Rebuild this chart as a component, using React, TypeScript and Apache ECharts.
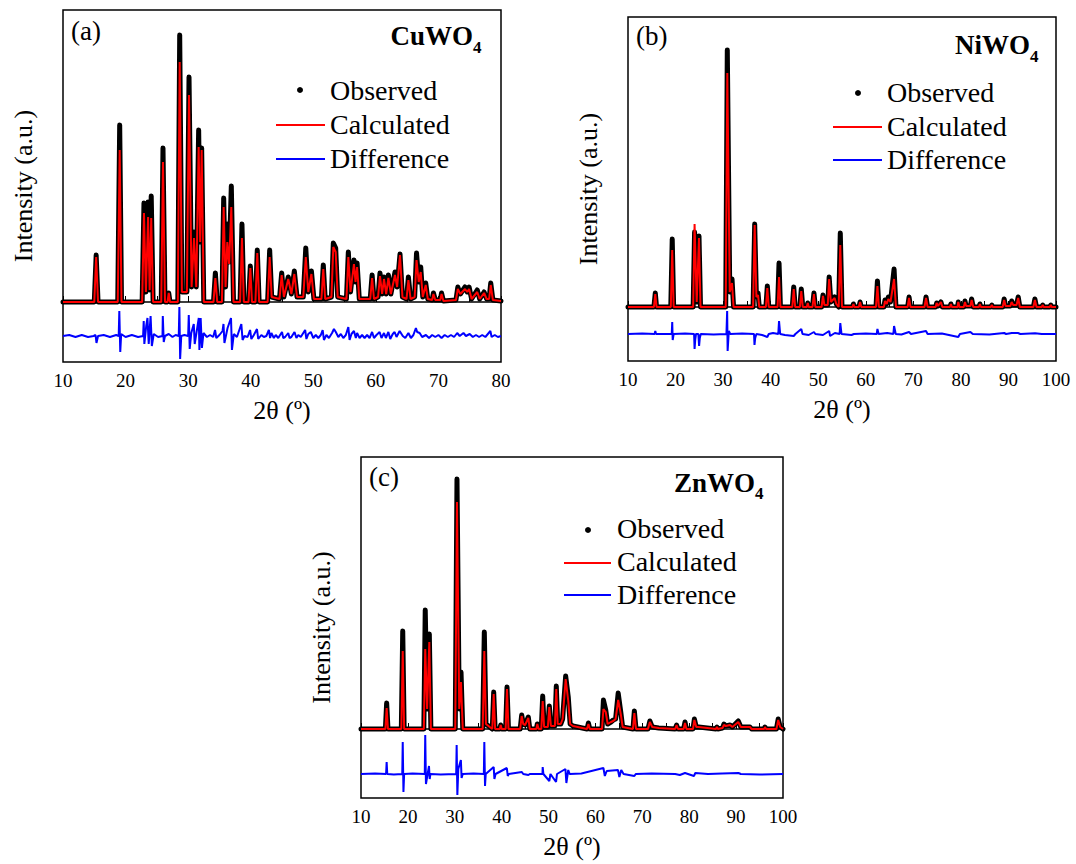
import React, { useEffect, useRef } from "react";
import * as echarts from "echarts";

// ---------- Panel (a) CuWO4 ----------
const cuTheta = [10, 15.0, 15.3, 15.6, 18.75, 19.06, 19.35, 22.65, 22.94, 23.25, 23.6, 23.85, 24.1, 24.4, 25.7, 25.98, 26.3, 26.7, 26.9, 27.1, 28.35, 28.65, 29.0, 29.8, 30.14, 30.55, 30.94, 31.3, 31.68, 31.92, 32.16, 32.5, 34.05, 34.35, 34.65, 35.4, 35.68, 35.98, 36.26, 36.55, 36.9, 37.25, 38.3, 38.6, 38.9, 39.65, 39.94, 40.2, 40.75, 41.05, 41.35, 42.7, 43.03, 43.35, 44.6, 44.95, 45.3, 46.0, 46.5, 46.97, 47.4, 48.4, 48.8, 49.2, 49.7, 50.1, 51.3, 51.6, 51.9, 52.9, 53.2, 53.58, 53.9, 55.3, 55.6, 55.95, 56.5, 56.75, 57.0, 57.35, 59.1, 59.4, 59.7, 60.35, 60.66, 61.0, 61.3, 61.65, 62.0, 62.4, 63.06, 63.4, 63.86, 64.25, 64.9, 65.2, 65.55, 66.2, 66.5, 66.85, 67.17, 67.5, 67.97, 68.3, 69.0, 69.2, 69.5, 70.3, 70.5, 70.8, 72.8, 73.1, 73.5, 74.25, 74.6, 74.9, 75.3, 76.2, 76.6, 77.3, 77.7, 78.1, 78.36, 78.7, 80];
const cuObs = [0, 0, 47, 0, 0, 177, 0, 0, 99, 10, 100, 12, 106, 0, 0, 154, 0, 0, 9, 0, 0, 267, 10, 10, 225, 15, 70, 15, 172, 60, 154, 0, 0, 29, 0, 0, 104, 15, 78, 40, 116, 0, 0, 78, 0, 0, 36, 0, 0, 52, 0, 0, 52, 5, 3, 29, 5, 25, 8, 31, 5, 5, 54, 10, 31, 3, 3, 37, 3, 5, 59, 54, 5, 3, 50, 10, 42, 20, 39, 3, 3, 27, 3, 5, 29, 8, 25, 8, 27, 8, 30, 15, 48, 5, 3, 25, 3, 5, 49, 20, 35, 5, 19, 3, 2, 9, 2, 2, 9, 1, 2, 15, 8, 15, 10, 15, 3, 12, 3, 10, 3, 3, 19, 2, 1];
const cuCalc = [0, 0, 45, 0, 0, 152, 0, 0, 89, 10, 85, 12, 84, 0, 0, 140, 0, 0, 9, 0, 0, 240, 10, 10, 207, 15, 64, 15, 155, 60, 152, 0, 0, 24, 0, 0, 95, 15, 60, 38, 95, 0, 0, 64, 0, 0, 34, 0, 0, 49, 0, 0, 45, 5, 3, 27, 5, 23, 8, 28, 5, 5, 45, 10, 28, 3, 3, 33, 3, 5, 55, 50, 5, 3, 45, 10, 38, 20, 35, 3, 3, 24, 3, 5, 26, 8, 23, 8, 24, 8, 27, 15, 47, 5, 3, 22, 3, 5, 42, 20, 30, 5, 17, 3, 2, 8, 2, 2, 8, 1, 2, 13, 8, 13, 10, 13, 3, 10, 3, 9, 3, 3, 17, 2, 1];
// [2θ, Yobs − Ycalc]
const cuDiffPts = [
  [10, 0], [11, 1], [12, -1], [13, 1], [14, -1], [14.9, 0], [15.2, 1], [15.35, -7], [15.6, 0], [16.5, 1], [17.5, -1], [18.5, 1],
  [18.9, 0], [19.0, 25], [19.15, -16], [19.3, 2], [20, -1], [21, 1], [22, -1], [22.8, 0], [22.9, 15], [23.0, -8], [23.3, 10],
  [23.5, 18], [23.7, -8], [24.0, 20], [24.2, -10], [24.5, 2], [25.2, -1], [25.9, 0], [25.95, 20], [26.1, -6], [26.3, 0],
  [26.9, 2], [27.5, -1], [28.0, 1], [28.5, 0], [28.6, 29], [28.72, -23], [28.9, 0], [29.4, 1], [30.0, 0], [30.1, 21],
  [30.25, -13], [30.5, 3], [30.9, 12], [31.05, -8], [31.5, 10], [31.7, 18], [31.8, -14], [32.0, 18], [32.2, -12], [32.45, 3],
  [33, -1], [33.5, 1], [34, -1], [34.3, 6], [34.5, -2], [35, 1], [35.5, 5], [35.65, 12], [35.8, -7], [36.3, 8], [36.85, 18],
  [37.0, -14], [37.3, 2], [37.8, -1], [38.5, 12], [38.7, -4], [39.0, 0], [39.5, -1], [39.9, 6], [40.1, -3], [40.5, 1],
  [41.0, 7], [41.2, -3], [41.7, 1], [42.1, -1], [42.5, 0], [42.9, 6], [43.1, -2], [43.3, 3], [43.7, -2], [44, 1], [44.4, -2],
  [45, 4], [45.2, -2], [45.5, -1], [46, 3], [46.2, -2], [46.5, -1], [47, 4], [47.3, -2], [47.6, 1], [48.0, -1], [48.3, 2],
  [48.7, 6], [48.9, -3], [49.2, 2], [49.6, 4], [50, -2], [50.4, 1], [50.8, -2], [51.2, 1], [51.5, 6], [51.7, -4], [52.1, 1],
  [52.5, -2], [53.0, 3], [53.3, 7], [53.6, 4], [54, -1], [54.4, 2], [54.8, -2], [55.2, 1], [55.6, 9], [55.8, -4], [56.1, 2],
  [56.5, 5], [56.8, -2], [57, 3], [57.4, -2], [57.8, 1], [58.2, -2], [58.6, 1], [59.0, -2], [59.4, 4], [59.7, -2], [60.1, 1],
  [60.6, 4], [60.9, -2], [61.3, 3], [61.6, -2], [62, 4], [62.3, -3], [62.7, 2], [63, 4], [63.3, -1], [63.8, 5], [64.3, 0],
  [64.7, -2], [65.2, 3], [65.6, -2], [66.0, 1], [66.4, 8], [66.6, 4], [67, 3], [67.4, -1], [68, 1], [68.5, -2], [69, 1],
  [69.5, -1], [70, 1], [70.5, -2], [71, 1], [71.5, -1], [72, 1], [72.5, -1], [73, 3], [73.4, 0], [74, 3], [74.4, 0], [75, 2],
  [75.5, -1], [76, 1], [76.5, -1], [77, 1], [77.5, -1], [78.3, 5], [78.5, -1], [79, 1], [79.5, -1], [80, 0],
];
const cuDiffOffset = -34;

// ---------- Panel (b) NiWO4 ----------
const niTheta = [10, 15.45, 15.74, 16.0, 19.0, 19.3, 19.6, 23.7, 24.0, 24.45, 24.93, 25.25, 30.55, 30.88, 31.4, 31.87, 32.2, 36.3, 36.64, 37.0, 37.34, 37.6, 39.0, 39.3, 39.6, 41.45, 41.76, 42.05, 44.55, 44.85, 45.15, 46.15, 46.44, 46.75, 47.6, 47.8, 48.0, 48.8, 49.1, 49.4, 50.7, 51.0, 51.3, 52.0, 52.3, 52.65, 53.45, 53.8, 54.3, 54.64, 55.0, 57.2, 57.4, 57.6, 58.55, 58.8, 59.05, 62.15, 62.45, 62.75, 63.8, 64.05, 64.4, 64.75, 65.2, 65.95, 66.35, 68.8, 69.1, 69.4, 72.35, 72.67, 73.0, 74.7, 74.9, 75.2, 75.8, 76.1, 77.7, 77.9, 78.1, 79.3, 79.45, 79.7, 80.6, 80.86, 81.1, 82.0, 82.26, 82.6, 83.8, 84.0, 84.2, 86.3, 86.5, 86.7, 88.8, 89.1, 89.4, 90.4, 90.67, 91.0, 91.7, 92.05, 92.4, 95.25, 95.56, 95.9, 97.0, 97.2, 97.4, 98.7, 98.9, 99.1, 100];
const niObs = [0, 0, 14, 0, 0, 68, 0, 0, 75, 5, 71, 0, 0, 257, 15, 28, 0, 0, 83, 10, 14, 0, 0, 21, 0, 0, 44, 0, 0, 20, 0, 0, 18, 0, 0, 4, 0, 0, 14, 0, 0, 12, 2, 2, 30, 5, 10, 3, 0, 74, 0, 0, 3, 0, 0, 5, 0, 0, 26, 0, 0, 7, 3, 10, 5, 38, 0, 0, 10, 0, 0, 10, 0, 0, 4, 1, 5, 0, 0, 3, 0, 0, 5, 0, 0, 6, 1, 1, 8, 0, 0, 3, 0, 0, 2, 0, 0, 8, 1, 1, 6, 2, 2, 10, 0, 0, 8, 0, 0, 2, 0, 0, 2, 0, 0];
const niCalc = [0, 0, 13, 0, 0, 57, 0, 0, 83, 5, 69, 0, 0, 234, 15, 24, 0, 0, 82, 10, 12, 0, 0, 19, 0, 0, 30, 0, 0, 18, 0, 0, 16, 0, 0, 4, 0, 0, 13, 0, 0, 11, 2, 2, 28, 5, 9, 3, 0, 62, 0, 0, 3, 0, 0, 5, 0, 0, 21, 0, 0, 6, 3, 8, 5, 28, 0, 0, 9, 0, 0, 9, 0, 0, 4, 1, 5, 0, 0, 3, 0, 0, 5, 0, 0, 5, 1, 1, 7, 0, 0, 3, 0, 0, 2, 0, 0, 7, 1, 1, 5, 2, 2, 9, 0, 0, 7, 0, 0, 2, 0, 0, 2, 0, 0];
const niDiffPts = [
  [10, 0], [13, 0.5], [15.6, 0], [15.74, 3], [15.9, 0], [19.2, 0], [19.3, 12], [19.4, -6], [19.6, 0], [22, 0.5], [23.9, 0],
  [24.0, -15], [24.15, -5], [24.3, 0], [24.8, 0], [24.95, -12], [25.1, -4], [25.3, 0], [28, -0.5], [30.7, 0], [30.85, 23],
  [30.95, -17], [31.2, 3], [31.5, 0], [34, 0.5], [36.5, 0], [36.6, -11], [36.75, -4], [37, 0], [38.2, -1], [39.3, -3],
  [39.6, 0], [40.5, 1], [41.6, 0], [41.76, 13], [42, 0], [43, -1], [44.85, -2], [45.2, 0], [46.44, 5], [46.7, 0], [48, -1],
  [49.1, 2], [49.4, 0], [51, -1], [52.3, 3], [52.5, -2], [53.5, 1], [54.5, 0], [54.64, 11], [54.9, 0], [57, -1], [57.5, 0],
  [60, 0.5], [62.3, 0], [62.45, 5], [62.7, 0], [64.5, 1], [65.8, 0], [65.95, 8], [66.3, 0], [67.5, -0.5], [69.1, 2], [69.5, 0],
  [72.67, 3], [73, 0], [76, 0.5], [79.45, -3], [79.8, 0], [80.9, 1], [82, 2], [82.5, 0], [86, -0.5], [89.1, 1], [89.5, 0],
  [90.7, 1], [92, 1], [92.5, 0], [95.6, 0.8], [97, 0], [100, 0],
];
const niDiffOffset = -27;

// ---------- Panel (c) ZnWO4 ----------
const znTheta = [10, 15.2, 15.47, 15.75, 18.6, 18.9, 19.2, 23.4, 23.7, 24.1, 24.57, 24.9, 30.1, 30.47, 30.95, 31.33, 31.7, 35.95, 36.3, 36.65, 38.0, 38.3, 38.6, 39.6, 39.8, 40.0, 40.85, 41.14, 41.45, 43.95, 44.27, 44.6, 45.0, 45.68, 46.0, 47.4, 47.6, 47.9, 48.45, 48.75, 49.05, 49.85, 50.16, 50.5, 51.35, 51.65, 51.95, 52.6, 53.0, 53.65, 54.2, 54.6, 55.2, 58.2, 58.5, 58.8, 61.4, 61.7, 62.2, 62.6, 63.3, 63.8, 64.3, 64.85, 65.4, 65.8, 68.0, 68.3, 68.65, 71.2, 71.6, 72.1, 73.5, 77.0, 77.3, 77.6, 78.8, 79.1, 79.4, 80.8, 81.1, 81.5, 82.0, 85.7, 85.9, 86.1, 87.1, 87.4, 87.8, 88.7, 89.2, 90.46, 91.0, 92.95, 93.3, 96.0, 96.15, 96.4, 98.6, 98.98, 99.4, 100];
const znObs = [0, 0, 26, 0, 0, 98, 0, 0, 119, 20, 95, 0, 0, 250, 20, 57, 0, 0, 97, 5, 0, 37, 0, 0, 4, 0, 0, 42, 0, 0, 14, 5, 4, 12, 0, 0, 5, 0, 0, 33, 2, 2, 23, 3, 3, 43, 5, 5, 10, 53, 32, 5, 3, 0, 6, 0, 0, 29, 19, 5, 7, 9, 10, 36, 17, 2, 0, 18, 0, 0, 8, 2, 1, 0, 4, 0, 0, 7, 0, 0, 10, 2, 2, 0, 2, 0, 1, 5, 3, 4, 2, 8, 2, 2, 0, 0, 2, 0, 0, 10, 2, 0];
const znCalc = [0, 0, 21, 0, 0, 78, 0, 0, 80, 20, 87, 0, 0, 227, 20, 47, 0, 0, 78, 5, 0, 35, 0, 0, 4, 0, 0, 40, 0, 0, 13, 5, 4, 11, 0, 0, 5, 0, 0, 28, 2, 2, 22, 3, 3, 40, 5, 5, 10, 50, 28, 5, 3, 0, 5, 0, 0, 20, 17, 5, 7, 8, 10, 29, 15, 2, 0, 16, 0, 0, 7, 2, 1, 0, 4, 0, 0, 6, 0, 0, 9, 2, 2, 0, 2, 0, 1, 4, 3, 4, 2, 7, 2, 2, 0, 0, 2, 0, 0, 9, 2, 0];
const znDiffPts = [
  [10, 0], [13, 0.5], [15.35, 0], [15.47, 12], [15.6, 0], [17, -0.5], [18.8, 0], [18.9, 32], [19.05, -18], [19.2, 0], [21, 0.5],
  [23.6, 0], [23.7, 39], [23.85, -10], [24.5, 8], [24.65, -5], [24.8, 0], [27, -0.5], [30.3, 0], [30.4, 29], [30.55, -21],
  [30.75, 5], [31.3, 14], [31.45, -4], [31.7, 0], [34, 0.5], [36.2, 0], [36.3, 32], [36.45, -12], [36.6, 0], [38.3, 7],
  [38.45, -5], [38.7, 0], [41.1, 6], [41.3, -2], [41.5, 0], [44.3, 2], [44.6, 0], [45.7, -1], [46, 0], [48.7, 0], [48.75, 7],
  [48.9, 0], [50.16, -7], [50.4, 0], [51.6, -8], [51.8, 0], [53.6, 5], [53.8, -9], [54.2, 4], [54.5, 0], [57, 0.5], [61.7, 6],
  [62.0, -2], [62.4, 3], [64.8, 4], [65.1, -3], [65.5, 4], [66, 0], [68.3, -2], [68.6, 0], [72, 0.5], [77, 0], [78, -1],
  [79.1, 1], [81, -2], [81.3, 1], [84, 0], [87, 0.5], [90.5, 1], [91, 0], [95, -0.5], [100, 0],
];
const znDiffOffset = -45;

const xTicks = { interval: 10, min: 10 };
const FONT = '"Liberation Serif", "Times New Roman", Times, serif';

const panels = [
  { theta: cuTheta, obs: cuObs, calc: cuCalc, diff: cuDiffPts, off: cuDiffOffset, xMax: 80,
    grid: { left: 63, top: 10, width: 438, height: 352 }, yMin: -60, yMax: 292 },
  { theta: niTheta, obs: niObs, calc: niCalc, diff: niDiffPts, off: niDiffOffset, xMax: 100,
    grid: { left: 628, top: 17, width: 428, height: 344 }, yMin: -54, yMax: 290 },
  { theta: znTheta, obs: znObs, calc: znCalc, diff: znDiffPts, off: znDiffOffset, xMax: 100,
    grid: { left: 361, top: 457, width: 422, height: 341 }, yMin: -69, yMax: 272 },
];

// annotation layout (pixels)
const annot = [
  { lab: "(a)", labX: 71, labY: 31, formula: "CuWO", fx: 473, fy: 36, sy: 47,
    dotX: 300, dotY: 90, lx1: 276, lx2: 325, tx: 330, oy: 90, cy: 124, dy: 158, ly1: 125, ly2: 159 },
  { lab: "(b)", labX: 636, labY: 36, formula: "NiWO", fx: 1030, fy: 45, sy: 56,
    dotX: 858, dotY: 93, lx1: 833, lx2: 882, tx: 887, oy: 92, cy: 126, dy: 159, ly1: 127, ly2: 160 },
  { lab: "(c)", labX: 369, labY: 477, formula: "ZnWO", fx: 755, fy: 483, sy: 493,
    dotX: 588, dotY: 530, lx1: 564, lx2: 611, tx: 617, oy: 528, cy: 561, dy: 594, ly1: 563, ly2: 595 },
];

export default function App() {
  const ref = useRef<HTMLDivElement>(null);
  useEffect(() => {
    if (!ref.current) return;
    const chart = echarts.init(ref.current, null, { renderer: "svg" });
    const grids: any[] = [];
    const xAxes: any[] = [];
    const yAxes: any[] = [];
    const series: any[] = [];
    const graphic: any[] = [];
    panels.forEach((p, i) => {
      grids.push({ ...p.grid, show: true, borderColor: "#000", borderWidth: 1.5, backgroundColor: "transparent", containLabel: false, outerBoundsMode: "none" });
      xAxes.push({
        type: "value", gridIndex: i, min: xTicks.min, max: p.xMax, interval: xTicks.interval,
        axisLine: { show: true, lineStyle: { color: "#000", width: 1.5 } },
        axisTick: { show: true, inside: true, length: 6, lineStyle: { color: "#000", width: 1 } },
        minorTick: { show: true, splitNumber: 2, length: 6, lineStyle: { color: "#000", width: 1 } },
        axisLabel: { color: "#000", fontSize: 19, fontFamily: FONT, margin: 9 },
        splitLine: { show: false }, minorSplitLine: { show: false },
        name: "2θ (º)", nameLocation: "middle", nameGap: 35,
        nameTextStyle: { color: "#000", fontSize: 26, fontFamily: FONT },
      });
      yAxes.push({
        type: "value", gridIndex: i, min: p.yMin, max: p.yMax,
        axisLine: { show: false }, axisTick: { show: false }, axisLabel: { show: false }, splitLine: { show: false },
        name: "Intensity (a.u.)", nameLocation: "middle", nameGap: 27,
        nameTextStyle: { color: "#000", fontSize: 26, fontFamily: FONT },
      });
      series.push({
        name: "Observed", type: "line", xAxisIndex: i, yAxisIndex: i, silent: true, showSymbol: false, z: 2,
        data: p.theta.map((t, k) => [t, p.obs[k]]),
        lineStyle: { color: "#000", width: 5, cap: "round", join: "round" },
      });
      series.push({
        name: "Calculated", type: "line", xAxisIndex: i, yAxisIndex: i, silent: true, showSymbol: false, z: 3,
        data: p.theta.map((t, k) => [t, p.calc[k]]),
        lineStyle: { color: "#ff0000", width: 2 },
      });
      series.push({
        name: "Difference", type: "line", xAxisIndex: i, yAxisIndex: i, silent: true, showSymbol: false, z: 3,
        data: p.diff.map((d) => [d[0], d[1] + p.off]),
        lineStyle: { color: "#0000ff", width: 2 },
      });
      const a = annot[i];
      const ts = { fontFamily: FONT, fill: "#000" };
      graphic.push(
        { type: "text", x: a.labX, y: a.labY, style: { ...ts, text: a.lab, fontSize: 27, verticalAlign: "middle", align: "left" } },
        { type: "text", x: a.fx, y: a.fy, style: { ...ts, text: a.formula, fontSize: 27, fontWeight: "bold", verticalAlign: "middle", align: "right" } },
        { type: "text", x: a.fx, y: a.sy, style: { ...ts, text: "4", fontSize: 17, fontWeight: "bold", verticalAlign: "middle", align: "left" } },
        { type: "circle", shape: { cx: a.dotX, cy: a.dotY, r: 3 }, style: { fill: "#000" } },
        { type: "line", shape: { x1: a.lx1, y1: a.ly1, x2: a.lx2, y2: a.ly1 }, style: { stroke: "#ff0000", lineWidth: 2 } },
        { type: "line", shape: { x1: a.lx1, y1: a.ly2, x2: a.lx2, y2: a.ly2 }, style: { stroke: "#0000ff", lineWidth: 2 } },
        { type: "text", x: a.tx, y: a.oy, style: { ...ts, text: "Observed", fontSize: 28, verticalAlign: "middle", align: "left" } },
        { type: "text", x: a.tx, y: a.cy, style: { ...ts, text: "Calculated", fontSize: 28, verticalAlign: "middle", align: "left" } },
        { type: "text", x: a.tx, y: a.dy, style: { ...ts, text: "Difference", fontSize: 28, verticalAlign: "middle", align: "left" } },
      );
    });
    chart.setOption({
      animation: false,
      backgroundColor: "#fff",
      textStyle: { fontFamily: FONT },
      grid: grids, xAxis: xAxes, yAxis: yAxes, series, graphic,
    });
    return () => chart.dispose();
  }, []);
  return <div ref={ref} style={{ position: "fixed", left: 0, top: 0, width: 1076, height: 864 }} />;
}
